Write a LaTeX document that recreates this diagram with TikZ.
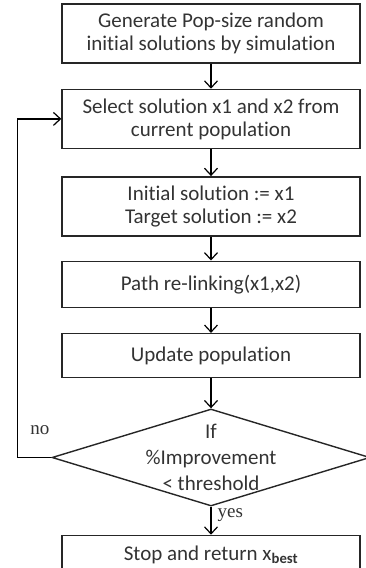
\documentclass[tikz,border=0pt]{standalone}
\usepackage{fontspec}
\setmainfont{Carlito}[Ligatures=NoCommon]
\newfontfamily\answerfont{Liberation Serif}
\usetikzlibrary{positioning,shapes.geometric,arrows.meta}
\tikzstyle{stepbox}=[rectangle,draw=black!85,line width=1.4pt,text=black!80,
minimum width=298pt,inner sep=0pt,align=center,font=\fontsize{21}{23}\selectfont]
\tikzstyle{decision}=[diamond,draw=black!85,line width=1.4pt,
minimum width=318pt,minimum height=97pt,inner sep=0pt]
\tikzstyle{answer}=[font=\answerfont\fontsize{19}{19}\selectfont,text=black!80,inner sep=1pt]
\tikzstyle{flow}=[-{Straight Barb[length=7pt,width=13pt]},line width=1.2pt]

\begin{document}
\begin{tikzpicture}[x=1pt,y=1pt]
            \useasboundingbox (0,0) rectangle (366,-568);

            % main chain
            \node[stepbox,minimum height=59pt] (gen) at (211,-33.5) {Generate Pop-size random\\initial solutions by simulation};
            \node[stepbox,minimum height=59pt,below=25pt of gen] (sel) {Select solution x1 and x2 from\\current population};
            \node[stepbox,minimum height=59pt,below=27pt of sel] (init) {Initial solution := x1\\Target solution := x2};
            \node[stepbox,minimum height=46pt,below=24pt of init] (relink) {Path re-linking(x1,x2)};
            \node[stepbox,minimum height=44pt,below=25pt of relink] (update) {Update population};
            \node[decision,below=30pt of update] (test) {};
            \node[align=center,text=black!80,font=\fontsize{21}{26}\selectfont] (testtxt) at (test.center) {If\\\%Improvement\\< threshold};
            \node[stepbox,minimum height=39pt,below=28pt of test] (stop) {Stop and return x\textsubscript{\bfseries best}};

            \path[flow] (gen) edge (sel);
            \path[flow] (sel) edge (init);
            \path[flow] (init) edge (relink);
            \path[flow] (relink) edge (update);
            \path[flow] (update) edge (test);
            \path[flow] (test) edge node[answer,right=5pt,pos=0.3] (yes) {yes} (stop);

            % back to selection
            \coordinate[left=34pt of test.west] (back);
            \draw[flow] (test.west) -- (back) |- (sel.west);
            \node[answer,above right=22pt and 12pt of back] (no) {no};

        \end{tikzpicture}
\end{document}
